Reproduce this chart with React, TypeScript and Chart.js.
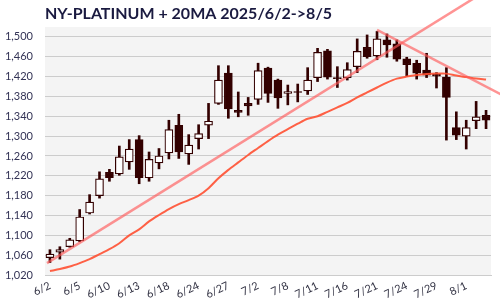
import React, { useEffect, useRef } from "react";
import { Chart, registerables } from "chart.js";

Chart.register(...registerables);

const dates = ["6/2","6/3","6/4","6/5","6/6","6/9","6/10","6/11","6/12","6/13","6/16","6/17","6/18","6/20","6/23","6/24","6/25","6/26","6/27","6/30","7/1","7/2","7/3","7/7","7/8","7/9","7/10","7/11","7/14","7/15","7/16","7/17","7/18","7/21","7/22","7/23","7/24","7/25","7/28","7/29","7/30","7/31","8/1","8/4","8/5"];
const opens = [1055,1066,1077,1089,1145,1180,1227,1224,1248,1293,1216,1246,1266,1322,1264,1295,1322,1366,1427,1352,1366,1374,1437,1413,1386,1390,1391,1418,1472,1418,1418,1440,1479,1462,1494,1486,1456,1447,1433,1425,1419,1317,1300,1331,1342];
const highs = [1071,1077,1094,1152,1182,1228,1233,1280,1293,1301,1268,1275,1332,1344,1303,1323,1366,1442,1442,1389,1378,1447,1439,1415,1403,1405,1438,1477,1475,1440,1448,1496,1504,1511,1506,1494,1459,1453,1467,1428,1438,1349,1332,1370,1352];
const lows = [1045,1052,1076,1087,1143,1175,1209,1221,1233,1204,1209,1234,1254,1255,1243,1274,1295,1364,1336,1339,1342,1364,1368,1356,1363,1369,1384,1410,1415,1398,1413,1428,1457,1454,1459,1451,1421,1415,1418,1397,1292,1293,1274,1315,1315];
const closes = [1062,1071,1091,1137,1167,1214,1216,1258,1274,1216,1253,1260,1313,1268,1282,1305,1330,1413,1355,1348,1361,1432,1386,1377,1390,1388,1413,1469,1419,1416,1434,1471,1460,1496,1484,1455,1444,1427,1423,1421,1378,1302,1317,1339,1332];
const ma20 = [1028,1032,1037,1044,1052,1062,1072,1084,1100,1112,1128,1141,1153,1163,1171,1180,1195,1215,1232,1247,1262,1276,1290,1303,1314,1325,1335,1340,1349,1358,1367,1378,1388,1398,1408,1416,1420,1423,1425,1426,1426,1422,1419,1416,1414];
const trendUpX = [-0.3, 44];
const trendUpY = [1044, 1593];
const trendDownX = [33, 46];
const trendDownY = [1514, 1379];
const yTickMin = 1020;
const yTickMax = 1520;
const yTickStep = 20;
const titleText = "NY-PLATINUM + 20MA 2025/6/2->8/5";

const DARK = "#330000";

export default function App() {
  const ref = useRef<HTMLCanvasElement | null>(null);
  useEffect(() => {
    document.body.style.margin = "0";
    if (!ref.current) return;
    const bgPlugin = {
      id: "plotBg",
      beforeDraw(chart: any) {
        const { ctx, chartArea } = chart;
        ctx.save();
        ctx.fillStyle = "#f4f4f4";
        ctx.fillRect(chartArea.left, chartArea.top, chartArea.right - chartArea.left, chartArea.bottom - chartArea.top);
        ctx.restore();
      },
      afterDraw(chart: any) {
        const { ctx, chartArea } = chart;
        ctx.save();
        ctx.font = "bold 16px Lato";
        ctx.fillStyle = "#1a1a40";
        ctx.textBaseline = "middle";
        ctx.textAlign = "left";
        ctx.fillText(titleText, chartArea.left, 14);
        ctx.restore();
      },
    };
    const chart = new Chart(ref.current, {
      type: "bar",
      data: {
        labels: dates,
        datasets: [
          {
            type: "line",
            label: "trendUp",
            xAxisID: "x2",
            data: trendUpX.map((x, i) => ({ x, y: trendUpY[i] })),
            borderColor: "rgba(255,90,90,0.65)",
            borderWidth: 2.5,
            pointRadius: 0,
            clip: false as any,
            order: 0,
          } as any,
          {
            type: "line",
            label: "trendDown",
            xAxisID: "x2",
            data: trendDownX.map((x, i) => ({ x, y: trendDownY[i] })),
            borderColor: "rgba(255,90,90,0.65)",
            borderWidth: 2.5,
            pointRadius: 0,
            clip: false as any,
            order: 0,
          } as any,
          {
            type: "line",
            label: "20MA",
            data: ma20,
            borderColor: "rgba(255,80,50,0.9)",
            borderWidth: 2,
            pointRadius: 0,
            tension: 0.3,
            order: 1,
          } as any,
          {
            label: "body",
            data: opens.map((o, i) => [o, closes[i]]),
            backgroundColor: opens.map((o, i) => (closes[i] >= o ? "#ffffff" : DARK)),
            borderColor: DARK,
            borderWidth: 1.2,
            borderSkipped: false,
            barThickness: 8,
            grouped: false,
            order: 2,
          } as any,
          {
            label: "wick",
            data: lows.map((l, i) => [l, highs[i]]),
            backgroundColor: DARK,
            borderWidth: 0,
            barThickness: 2,
            grouped: false,
            order: 3,
          } as any,
        ],
      },
      options: {
        animation: false,
        responsive: true,
        maintainAspectRatio: false,
        layout: { padding: { top: 27, right: 9, left: 0, bottom: 0 } },
        plugins: { legend: { display: false }, tooltip: { enabled: false }, title: { display: false } },
        scales: {
          x: {
            type: "category",
            offset: true,
            grid: { display: false, drawTicks: false },
            border: { display: true, color: "#cccccc" },
            ticks: {
              autoSkip: false,
              minRotation: 25,
              maxRotation: 25,
              padding: 4,
              color: "#333344",
              font: { family: "Lato", size: 11 },
              callback: (_v: any, i: number) => (i % 3 === 0 ? dates[i] : ""),
            },
            afterFit: (s: any) => { s.height = 25; },
          },
          x2: {
            type: "linear",
            display: false,
            offset: false,
            grid: { offset: false },
            min: -0.5,
            max: dates.length - 0.5,
          },
          y: {
            min: yTickMin,
            max: yTickMax,
            grid: { color: "#cccccc", lineWidth: 1, drawTicks: false },
            border: { display: false },
            ticks: {
              stepSize: yTickStep,
              padding: 12,
              color: "#333355",
              font: { family: "Lato", size: 11 },
              callback: (v: any) => ((Number(v) - yTickMin) % 40 === 0 ? Number(v).toLocaleString("en-US") : ""),
            },
            afterFit: (s: any) => { s.width = 45; },
          },
        },
      } as any,
      plugins: [bgPlugin],
    });
    return () => chart.destroy();
  }, []);
  return (
    <div style={{ width: 500, height: 300, position: "relative" }}>
      <canvas ref={ref} />
    </div>
  );
}
